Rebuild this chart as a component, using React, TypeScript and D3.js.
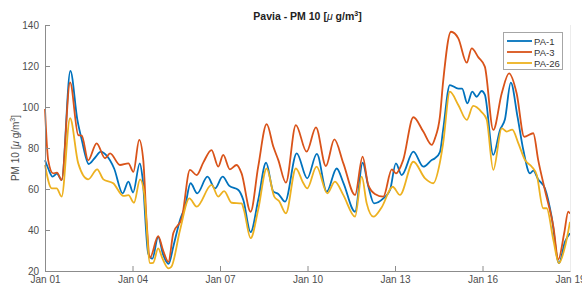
import React, { useRef, useEffect } from "react";
import * as d3 from "d3";

// knots: [day since Jan 01, µg/m3]
const pa1: [number, number][] = [
  [0, 74], [0.11, 70], [0.26, 66], [0.41, 67.5], [0.57, 64.4], [0.87, 117.6],
  [1.11, 93.7], [1.26, 84], [1.5, 72.2], [1.7, 75], [1.92, 78.2], [2.09, 76.6],
  [2.37, 70], [2.66, 57.9], [2.86, 63.6], [3.02, 58.3], [3.25, 72.5], [3.34, 66],
  [3.54, 28.5], [3.68, 26], [3.88, 36.6], [4.05, 28], [4.24, 23.5], [4.4, 32],
  [4.63, 44.9], [4.8, 51.4], [4.99, 62.8], [5.22, 57.9], [5.57, 66], [5.83, 60.3],
  [6.09, 66], [6.32, 61.5], [6.63, 59.5], [6.8, 54.6], [7.05, 39], [7.31, 54.6],
  [7.58, 72.8], [7.83, 58.7], [8.0, 57.6], [8.23, 53.8], [8.63, 77.4], [8.99, 65.2],
  [9.32, 77.1], [9.66, 58.7], [10.0, 70], [10.23, 63], [10.63, 48.9], [10.89, 72.8],
  [11.08, 61.6], [11.28, 53], [11.6, 55.4], [11.83, 59.5], [12.03, 72.5], [12.23, 66.8],
  [12.63, 78.2], [12.97, 70.9], [13.26, 74.1], [13.37, 75], [13.54, 78], [13.65, 88.8],
  [13.88, 110.7], [14.17, 109], [14.3, 109], [14.48, 101.8], [14.65, 107.5], [14.8, 105],
  [14.97, 107.8], [15.08, 106], [15.37, 76.6], [15.6, 88.8], [15.77, 94], [15.97, 111.9],
  [16.2, 95.3], [16.4, 79], [16.63, 67.6], [16.74, 69], [16.91, 64.7], [17.14, 60.3],
  [17.37, 46.5], [17.62, 23.8], [17.83, 34.3], [18.0, 38.4],
];

const pa3: [number, number][] = [
  [0, 99], [0.11, 74], [0.28, 67.6], [0.41, 68], [0.57, 64.4], [0.86, 112],
  [1.14, 86.3], [1.26, 86], [1.48, 74], [1.77, 82.3], [2.06, 75], [2.23, 77.4],
  [2.57, 71.7], [2.86, 72.5], [3.03, 68.4], [3.23, 84], [3.37, 74], [3.48, 45],
  [3.6, 26.5], [3.88, 37], [4.05, 30], [4.23, 24.5], [4.4, 38.5], [4.69, 45.7],
  [4.97, 69.3], [5.2, 66.8], [5.43, 73], [5.71, 79], [5.94, 70.9], [6.11, 76.6],
  [6.34, 69.6], [6.57, 71.7], [6.74, 67.6], [7.05, 48.9], [7.31, 70.9], [7.6, 91.6],
  [7.83, 80.6], [8.0, 74.1], [8.26, 63.1], [8.6, 91.2], [8.97, 78.2], [9.29, 90.1],
  [9.63, 71.2], [9.92, 84.2], [10.23, 72.5], [10.63, 57.1], [10.89, 75.8], [11.08, 62],
  [11.31, 57.6], [11.6, 56.3], [11.89, 69.6], [12.03, 67.6], [12.28, 74.1], [12.63, 95],
  [12.97, 88], [13.26, 81.5], [13.37, 84.7], [13.54, 95.3], [13.65, 112.4], [13.92, 136.7],
  [14.17, 133.5], [14.46, 121.6], [14.63, 128.6], [14.86, 124.2], [15.08, 119.7], [15.37, 88.8],
  [15.66, 106.7], [15.91, 116.4], [16.17, 106.7], [16.43, 85.5], [16.74, 87.2], [16.91, 74.1],
  [17.14, 59.5], [17.43, 41.6], [17.6, 25.7], [17.8, 38.4], [17.94, 49], [18.0, 48],
];

const pa26: [number, number][] = [
  [0, 71.7], [0.23, 60.3], [0.4, 60.3], [0.57, 56.3], [0.86, 94.5], [1.14, 72.5],
  [1.48, 64.7], [1.79, 69.6], [2.0, 64.7], [2.34, 62.8], [2.69, 56.6], [2.86, 57],
  [3.05, 53.3], [3.26, 64.7], [3.4, 58], [3.6, 23.8], [3.71, 24], [3.88, 31],
  [4.03, 26], [4.23, 21.3], [4.33, 22], [4.63, 40], [4.95, 55.4], [5.2, 51.4],
  [5.71, 62], [5.94, 56.3], [6.14, 59], [6.4, 53.3], [6.74, 53], [6.82, 49.8],
  [7.05, 36], [7.31, 50], [7.6, 70], [7.86, 56.3], [8.03, 54], [8.26, 48.1],
  [8.6, 70], [8.86, 62.8], [8.99, 60.3], [9.31, 70.9], [9.68, 57.9], [9.94, 63.6],
  [10.23, 57], [10.63, 46.5], [10.86, 66], [11.03, 53], [11.26, 46.5], [11.54, 51],
  [11.92, 61.1], [12.17, 57.1], [12.63, 73.3], [13.03, 65.2], [13.31, 62.8], [13.54, 73],
  [13.65, 82.3], [13.88, 107.5], [14.17, 101], [14.46, 93.7], [14.68, 100.5], [14.97, 97.5],
  [15.14, 94], [15.37, 69.3], [15.66, 89.6], [15.83, 88], [16.02, 89], [16.23, 82.3],
  [16.46, 74.1], [16.69, 70.9], [16.86, 66.8], [17.08, 50.6], [17.2, 50.6], [17.43, 35.1],
  [17.62, 23.8], [17.83, 31.9], [18.0, 44],
];

const seriesNames = ["PA-1", "PA-3", "PA-26"];
const seriesColors = ["#0072BD", "#D95319", "#EDB120"];
const xTickDays = [0, 3, 6, 9, 12, 15, 18];
const xTickLabels = ["Jan 01", "Jan 04", "Jan 07", "Jan 10", "Jan 13", "Jan 16", "Jan 19"];
const yTicks = [20, 40, 60, 80, 100, 120, 140];

function PmChart() {
  const ref = useRef<SVGSVGElement>(null);

  useEffect(() => {
    const svg = d3.select(ref.current);
    svg.selectAll("*").remove();

    const left = 45, right = 570, top = 25, bottom = 271;
    const x = d3.scaleLinear().domain([0, 18]).range([left, right]);
    const y = d3.scaleLinear().domain([20, 140]).range([bottom, top]);
    const font = "Arial, 'Liberation Sans', sans-serif";
    const axisColor = "#8c8c8c";

    // lines
    const line = d3
      .line<[number, number]>()
      .x(d => x(d[0]))
      .y(d => y(d[1]))
      .curve(d3.curveMonotoneX);

    [pa1, pa3, pa26].forEach((s, i) => {
      svg
        .append("path")
        .attr("d", line(s))
        .attr("fill", "none")
        .attr("stroke", seriesColors[i])
        .attr("stroke-width", 1.8)
        .attr("stroke-linejoin", "round");
    });

    // axes (matlab style: inward ticks)
    const yAxis = svg.append("g").attr("transform", `translate(${left},0)`);
    yAxis.call(
      d3.axisLeft(y).tickValues(yTicks).tickSizeInner(-5).tickSizeOuter(0).tickPadding(6)
    );
    const xAxis = svg.append("g").attr("transform", `translate(0,${bottom})`);
    xAxis.call(
      d3
        .axisBottom(x)
        .tickValues(xTickDays)
        .tickFormat((d, i) => xTickLabels[i])
        .tickSizeInner(-5)
        .tickSizeOuter(0)
        .tickPadding(5)
    );
    [yAxis, xAxis].forEach(g => {
      g.selectAll("path, line").attr("stroke", axisColor);
      g.selectAll("text")
        .attr("fill", "#4d4d4d")
        .attr("font-family", font)
        .attr("font-size", 10);
    });

    // faint right edge of the box
    svg
      .append("line")
      .attr("x1", right + 0.5)
      .attr("x2", right + 0.5)
      .attr("y1", top)
      .attr("y2", bottom)
      .attr("stroke", "#ececec");

    // title
    const title = svg
      .append("text")
      .attr("x", (left + right) / 2)
      .attr("y", 20)
      .attr("text-anchor", "middle")
      .attr("font-family", font)
      .attr("font-weight", "bold")
      .attr("font-size", 10.5)
      .attr("fill", "#222");
    title.append("tspan").text("Pavia - PM 10 [");
    title.append("tspan").attr("font-style", "italic").attr("font-weight", "normal").text("μ");
    title.append("tspan").text(" g/m");
    title.append("tspan").attr("font-size", 7).attr("dy", -4).text("3");
    title.append("tspan").attr("dy", 4).text("]");

    // y label
    const yl = svg
      .append("text")
      .attr("transform", `translate(19,${(top + bottom) / 2}) rotate(-90)`)
      .attr("text-anchor", "middle")
      .attr("font-family", font)
      .attr("font-size", 10)
      .attr("fill", "#4d4d4d");
    yl.append("tspan").text("PM 10 [");
    yl.append("tspan").attr("font-style", "italic").text("μ");
    yl.append("tspan").text(" g/m");
    yl.append("tspan").attr("font-size", 7).attr("dy", -4).text("3");
    yl.append("tspan").attr("dy", 4).text("]");

    // legend
    const lg = svg.append("g");
    lg.append("rect")
      .attr("x", 503.5)
      .attr("y", 32.5)
      .attr("width", 59)
      .attr("height", 37)
      .attr("fill", "#fff")
      .attr("stroke", "#a6a6a6");
    seriesNames.forEach((name, i) => {
      const ry = 41 + i * 11;
      lg.append("line")
        .attr("x1", 507)
        .attr("x2", 532)
        .attr("y1", ry)
        .attr("y2", ry)
        .attr("stroke", seriesColors[i])
        .attr("stroke-width", 1.8);
      lg.append("text")
        .attr("x", 534)
        .attr("y", ry + 3.5)
        .attr("font-family", font)
        .attr("font-size", 9.5)
        .attr("fill", "#333")
        .text(name);
    });
  }, []);

  return (
    <svg
      ref={ref}
      width={582}
      height={288}
      style={{ position: "fixed", left: 0, top: 0, background: "#fff" }}
    />
  );
}

export default function App() {
  return <PmChart />;
}
